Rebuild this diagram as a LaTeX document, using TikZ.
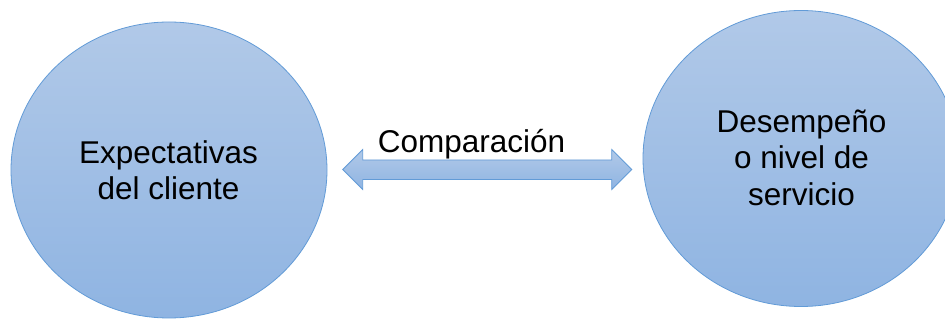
\documentclass[tikz,border=0pt]{standalone}
\usepackage{fontspec}
\setmainfont{Liberation Sans}
\usetikzlibrary{shapes.geometric}
\definecolor{topblue}{RGB}{177,201,232}
\definecolor{botblue}{RGB}{143,180,226}
\definecolor{edgeblue}{RGB}{98,155,215}
\begin{document}
\begin{tikzpicture}[x=1pt,y=-1pt,
  bubble/.style={ellipse, draw=edgeblue, line width=0.8pt, top color=topblue, bottom color=botblue, minimum width=316pt, minimum height=296pt, inner sep=0pt},
  lbl/.style={font=\fontsize{31.5}{36.5}\selectfont, align=center, text=black, inner sep=0pt},
  blockarrow/.style={draw=edgeblue, line width=0.8pt, top color=topblue, bottom color=botblue}]
\useasboundingbox[clip] (0,0) rectangle (945,320);
\fill[white] (0,0) rectangle (945,320);
\node[bubble] (exp) at (169,170) {};
\node[bubble] (des) at (801,158.5) {};
\node[lbl] (explbl) at (168.5,170) {Expectativas\\del cliente};
\node[lbl] (deslbl) at (801.5,157.5) {Desempeño\\o nivel de\\servicio};
\coordinate (ltip) at (342.7,169.5);
\coordinate (rtip) at (631.7,169.5);
\draw[blockarrow] (ltip) -- (362.7,149.5) -- (362.7,160) -- (611.7,160) -- (611.7,149.5) -- (rtip) -- (611.7,189.5) -- (611.7,179.5) -- (362.7,179.5) -- (362.7,189.5) -- cycle;
\node[lbl, anchor=base] (cmp) at (471.5,153) {Comparación};
\end{tikzpicture}
\end{document}
